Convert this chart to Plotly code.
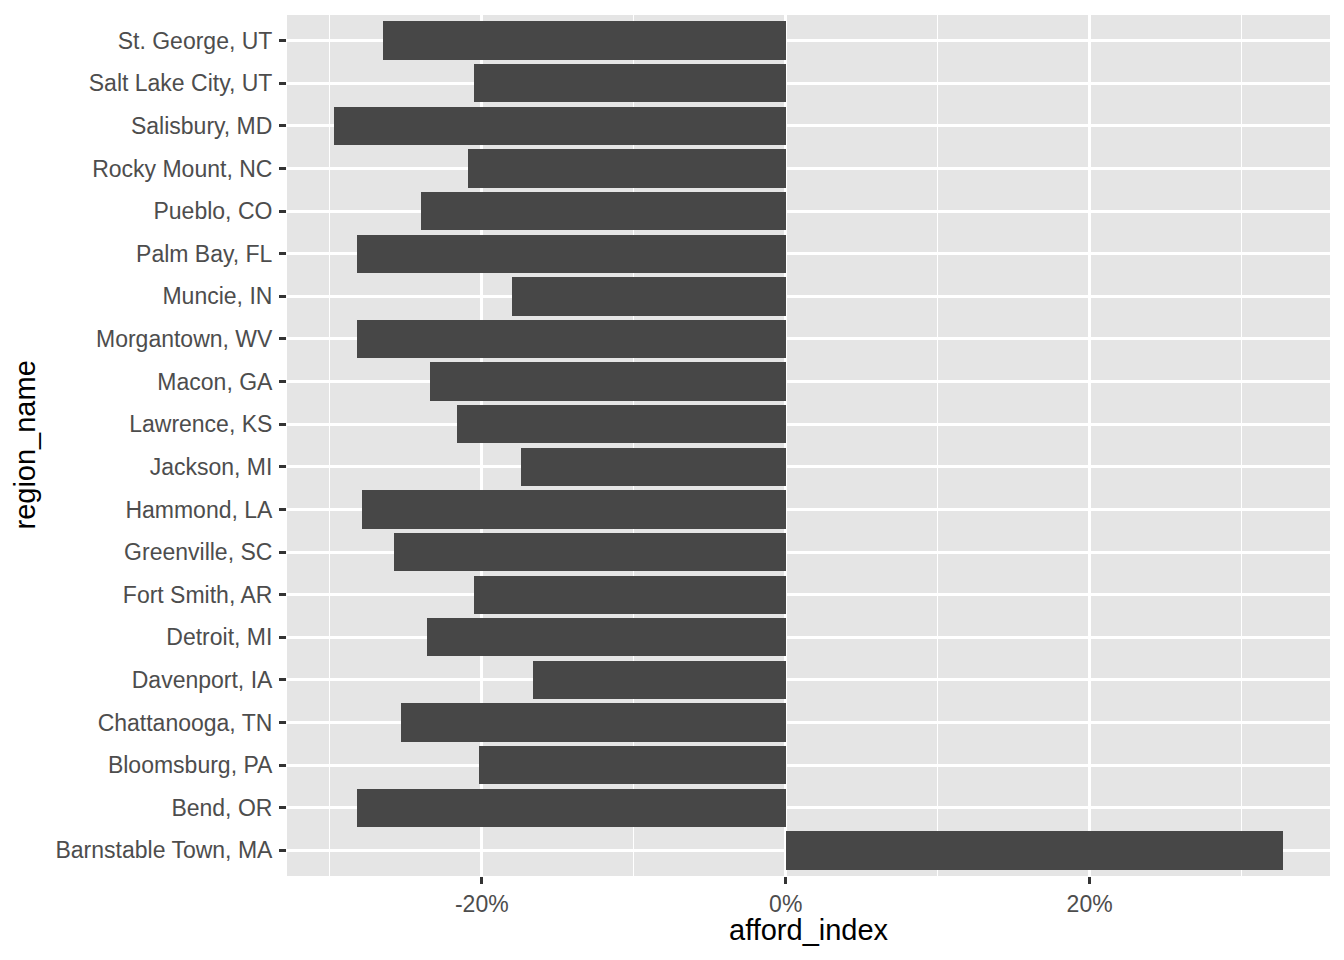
import plotly.graph_objects as go

regions = [
    "Barnstable Town, MA", "Bend, OR", "Bloomsburg, PA", "Chattanooga, TN",
    "Davenport, IA", "Detroit, MI", "Fort Smith, AR", "Greenville, SC",
    "Hammond, LA", "Jackson, MI", "Lawrence, KS", "Macon, GA",
    "Morgantown, WV", "Muncie, IN", "Palm Bay, FL", "Pueblo, CO",
    "Rocky Mount, NC", "Salisbury, MD", "Salt Lake City, UT", "St. George, UT",
]
afford_index = [
    32.7, -28.2, -20.2, -25.3,
    -16.6, -23.6, -20.5, -25.8,
    -27.9, -17.4, -21.6, -23.4,
    -28.2, -18.0, -28.2, -24.0,
    -20.9, -29.7, -20.5, -26.5,
]
x_tickvals = [-20, 0, 20]
x_ticktext = ["-20%", "0%", "20%"]
x_minor = [-30, -10, 10, 30]

# target panel position in page pixels
PL, PR, PT, PB = 287, 1330, 15, 876
W, H = 1344, 960
OFF = 8  # default page body margin

fig = go.Figure(go.Bar(
    x=afford_index, y=regions, orientation="h",
    marker=dict(color="#474747", line=dict(width=0)),
    width=0.9,
))

lo, hi = min(afford_index), max(afford_index)
pad = (hi - lo) * 0.05
FONT = "Liberation Sans, Arial, Helvetica, sans-serif"

fig.update_layout(
    width=W - OFF, height=H - OFF,
    margin=dict(l=PL - OFF, r=W - PR, t=PT - OFF, b=H - PB, autoexpand=False),
    paper_bgcolor="white", plot_bgcolor="#E5E5E5",
    showlegend=False,
    font=dict(family=FONT, color="#4D4D4D", size=23),
    bargap=0,
)
fig.update_xaxes(
    range=[lo - pad, hi + pad],
    tickmode="array", tickvals=x_tickvals, ticktext=x_ticktext,
    showgrid=True, gridcolor="white", gridwidth=2.8,
    zeroline=False, showline=False,
    ticks="outside", ticklen=7, tickwidth=2.8, tickcolor="#333333",
    tickfont=dict(size=23, color="#4D4D4D", family=FONT),
    minor=dict(tickvals=x_minor, showgrid=True, gridcolor="white",
               gridwidth=1.4, ticks=""),
)
fig.update_yaxes(
    type="category", categoryorder="array", categoryarray=regions,
    range=[-0.6, len(regions) - 0.4],
    showgrid=True, gridcolor="white", gridwidth=2.8,
    zeroline=False, showline=False,
    ticks="outside", ticklen=7, tickwidth=2.8, tickcolor="#333333",
    ticklabelstandoff=2,
    tickfont=dict(size=23, color="#4D4D4D", family=FONT),
)

pw, ph = PR - PL, PB - PT
fig.add_annotation(
    text="afford_index", xref="paper", yref="paper",
    x=((PL + PR) / 2 - PL) / pw, y=(PB - 930) / ph,
    xanchor="center", yanchor="middle", showarrow=False,
    font=dict(size=29, color="black", family=FONT),
)
fig.add_annotation(
    text="region_name", xref="paper", yref="paper",
    x=(24 - PL) / pw, y=0.5, textangle=-90,
    xanchor="center", yanchor="middle", showarrow=False,
    font=dict(size=29, color="black", family=FONT),
)

fig.write_html("out.html")
